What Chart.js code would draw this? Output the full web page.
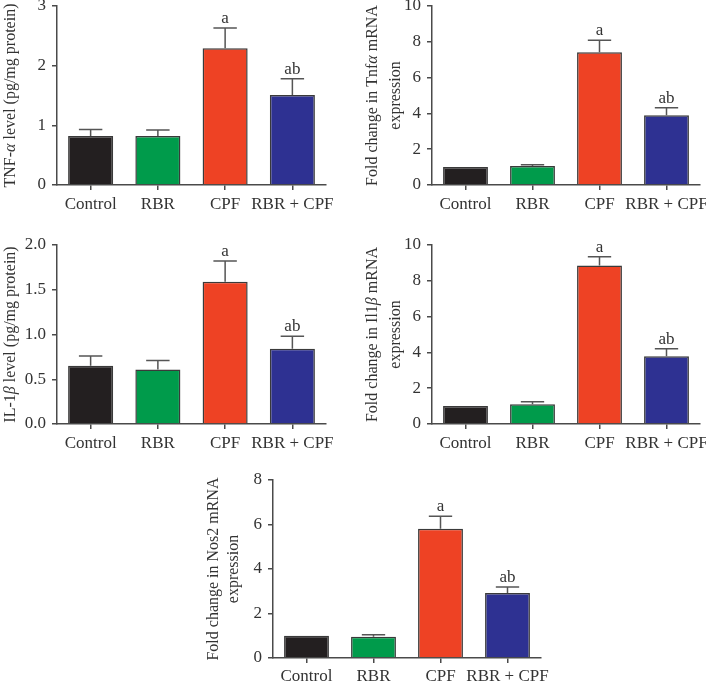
<!DOCTYPE html>
<html>
<head>
<meta charset="utf-8">
<script src="https://cdn.jsdelivr.net/npm/chart.js@4.4.1/dist/chart.umd.min.js"></script>
<style>
  html, body { margin: 0; padding: 0; background: #ffffff; width: 706px; height: 681px; overflow: hidden; }
  canvas { position: absolute; }
</style>
</head>
<body>
<canvas id="c1" width="353" height="225" style="left:0px;top:0px"></canvas>
<canvas id="c2" width="353" height="225" style="left:353px;top:0px"></canvas>
<canvas id="c3" width="353" height="235" style="left:0px;top:225px"></canvas>
<canvas id="c4" width="353" height="235" style="left:353px;top:225px"></canvas>
<canvas id="c5" width="390" height="221" style="left:190px;top:460px"></canvas>
<script>
// ---------------- DATA ----------------
const categories = ['Control', 'RBR', 'CPF', 'RBR + CPF'];
const sigLetters = ['', '', 'a', 'ab'];

const tnfProteinMean = [0.82, 0.82, 2.29, 1.51];
const tnfProteinErr  = [0.11, 0.10, 0.34, 0.27];
const tnfProteinTicks = [0, 1, 2, 3];

const tnfMrnaMean = [1.00, 1.06, 7.41, 3.89];
const tnfMrnaErr  = [0, 0.07, 0.67, 0.43];
const tnfMrnaTicks = [0, 2, 4, 6, 8, 10];

const il1ProteinMean = [0.65, 0.61, 1.59, 0.84];
const il1ProteinErr  = [0.11, 0.10, 0.23, 0.14];
const il1ProteinTicks = [0, 0.5, 1.0, 1.5, 2.0];

const il1MrnaMean = [1.00, 1.10, 8.86, 3.79];
const il1MrnaErr  = [0, 0.14, 0.49, 0.41];
const il1MrnaTicks = [0, 2, 4, 6, 8, 10];

const nos2MrnaMean = [1.00, 0.96, 5.81, 2.92];
const nos2MrnaErr  = [0, 0.09, 0.56, 0.27];
const nos2MrnaTicks = [0, 2, 4, 6, 8];

const tnfProteinTitle = ['TNF-α level (pg/mg protein)'];
const tnfMrnaTitle = ['Fold change in Tnfα mRNA', 'expression'];
const il1ProteinTitle = ['IL-1β level (pg/mg protein)'];
const il1MrnaTitle = ['Fold change in Il1β mRNA', 'expression'];
const nos2MrnaTitle = ['Fold change in Nos2 mRNA', 'expression'];

// ---------------- STYLE ----------------
const barColors = ['#231f20', '#009b4b', '#ee4224', '#2e3192'];
const axisColor = '#4a4a4a';
const textColor = '#333333';
const FONT = '"Liberation Serif", "Times New Roman", serif';
const GREEK = /[α-ω]/;

// error bars + significance letters
const errPlugin = {
  id: 'errBars',
  afterDatasetsDraw(chart, args, opts) {
    const ctx = chart.ctx;
    const meta = chart.getDatasetMeta(0);
    const ys = chart.scales.y;
    const ds = chart.data.datasets[0];
    ctx.save();
    ctx.strokeStyle = '#555555';
    ctx.lineWidth = 1.5;
    meta.data.forEach((bar, i) => {
      const x = bar.x;
      const v = ds.data[i], e = opts.errors[i];
      const yTop = ys.getPixelForValue(v);
      const yErr = ys.getPixelForValue(v + e);
      const half = bar.width * 0.26;
      if (e > 0) {
        ctx.beginPath();
        ctx.moveTo(x, yTop);
        ctx.lineTo(x, yErr);
        ctx.moveTo(x - half, yErr);
        ctx.lineTo(x + half, yErr);
        ctx.stroke();
      }
      if (opts.letters[i]) {
        ctx.fillStyle = textColor;
        ctx.font = opts.fontSize + 'px ' + FONT;
        ctx.textAlign = 'center';
        ctx.textBaseline = 'alphabetic';
        ctx.fillText(opts.letters[i], x, yErr - 5);
      }
    });
    ctx.restore();
  }
};

// rotated y-axis title with italic Greek letters
const yTitlePlugin = {
  id: 'yTitle',
  afterDraw(chart, args, opts) {
    const ctx = chart.ctx;
    const ys = chart.scales.y;
    const ca = chart.chartArea;
    const cy = (ca.top + ca.bottom) / 2;
    const lh = opts.fontSize * opts.lineHeight;
    ctx.save();
    ctx.fillStyle = textColor;
    ctx.textBaseline = 'middle';
    ctx.textAlign = 'left';
    const normal = opts.fontSize + 'px ' + FONT;
    const ital = 'italic ' + opts.fontSize + 'px ' + FONT;
    opts.lines.forEach((line, k) => {
      const segs = [];
      for (const ch of line) {
        const it = GREEK.test(ch);
        if (segs.length && segs[segs.length - 1].it === it) segs[segs.length - 1].t += ch;
        else segs.push({ t: ch, it });
      }
      let total = 0;
      segs.forEach(s => { ctx.font = s.it ? ital : normal; s.w = ctx.measureText(s.t).width; total += s.w; });
      const x = ys.left + opts.pad + lh / 2 + k * lh;
      ctx.save();
      ctx.translate(x, cy);
      ctx.rotate(-Math.PI / 2);
      let pos = -total / 2;
      segs.forEach(s => { ctx.font = s.it ? ital : normal; ctx.fillText(s.t, pos, 0); pos += s.w; });
      ctx.restore();
    });
    ctx.restore();
  }
};

function makePanel(id, cfg) {
  const ticksArr = cfg.ticks;
  new Chart(document.getElementById(id), {
    type: 'bar',
    data: {
      labels: categories,
      datasets: [{
        data: cfg.mean,
        backgroundColor: barColors,
        borderColor: '#3a3a3a',
        borderWidth: 1.5,
        barPercentage: 0.67,
        categoryPercentage: 1.0
      }]
    },
    options: {
      responsive: false,
      animation: false,
      devicePixelRatio: 1,
      layout: { padding: { left: 0, right: cfg.padRight, top: cfg.padTop, bottom: 0 } },
      plugins: {
        legend: { display: false },
        tooltip: { enabled: false },
        errBars: { errors: cfg.err, letters: sigLetters, fontSize: 17 },
        yTitle: { lines: cfg.title, fontSize: 16, lineHeight: cfg.titleLH, pad: cfg.titlePad }
      },
      scales: {
        x: {
          offset: true,
          grid: { display: true, drawOnChartArea: false, drawTicks: true, tickLength: 5, color: axisColor, lineWidth: 1.5, offset: false },
          border: { display: true, color: axisColor, width: 1.5 },
          ticks: { color: textColor, font: { family: FONT, size: 17 }, padding: cfg.xPad, maxRotation: 0, autoSkip: false },
          afterFit(s) { s.height = cfg.xHeight; s.paddingLeft = 0; s.paddingRight = 0; }
        },
        y: {
          min: ticksArr[0],
          max: ticksArr[ticksArr.length - 1],
          grid: { display: true, drawOnChartArea: false, drawTicks: true, tickLength: 5, color: axisColor, lineWidth: 1.5 },
          border: { display: true, color: axisColor, width: 1.5 },
          afterBuildTicks(s) { s.ticks = ticksArr.map(v => ({ value: v })); },
          ticks: {
            color: textColor,
            font: { family: FONT, size: 17 },
            padding: 6,
            callback: (v) => cfg.decimals ? Number(v).toFixed(cfg.decimals) : String(v)
          },
          title: { display: false },
          afterFit(s) { s.width = cfg.yWidth; s.paddingTop = 0; s.paddingBottom = 0; }
        }
      }
    },
    plugins: [errPlugin, yTitlePlugin]
  });
}

makePanel('c1', { mean: tnfProteinMean, err: tnfProteinErr, ticks: tnfProteinTicks, title: tnfProteinTitle,
  yWidth: 57, padRight: 27, padTop: 6, xHeight: 40, xPad: 4, titleLH: 1.2, titlePad: 1, decimals: 0 });
makePanel('c2', { mean: tnfMrnaMean, err: tnfMrnaErr, ticks: tnfMrnaTicks, title: tnfMrnaTitle,
  yWidth: 79, padRight: 6, padTop: 6, xHeight: 40, xPad: 4, titleLH: 1.45, titlePad: 8, decimals: 0 });
makePanel('c3', { mean: il1ProteinMean, err: il1ProteinErr, ticks: il1ProteinTicks, title: il1ProteinTitle,
  yWidth: 57, padRight: 27, padTop: 20, xHeight: 36, xPad: 4, titleLH: 1.2, titlePad: 1, decimals: 1 });
makePanel('c4', { mean: il1MrnaMean, err: il1MrnaErr, ticks: il1MrnaTicks, title: il1MrnaTitle,
  yWidth: 79, padRight: 6, padTop: 20, xHeight: 36, xPad: 4, titleLH: 1.45, titlePad: 8, decimals: 0 });
makePanel('c5', { mean: nos2MrnaMean, err: nos2MrnaErr, ticks: nos2MrnaTicks, title: nos2MrnaTitle,
  yWidth: 83, padRight: 39, padTop: 20, xHeight: 23, xPad: 3, titleLH: 1.3, titlePad: 13, decimals: 0 });
</script>
</body>
</html>
